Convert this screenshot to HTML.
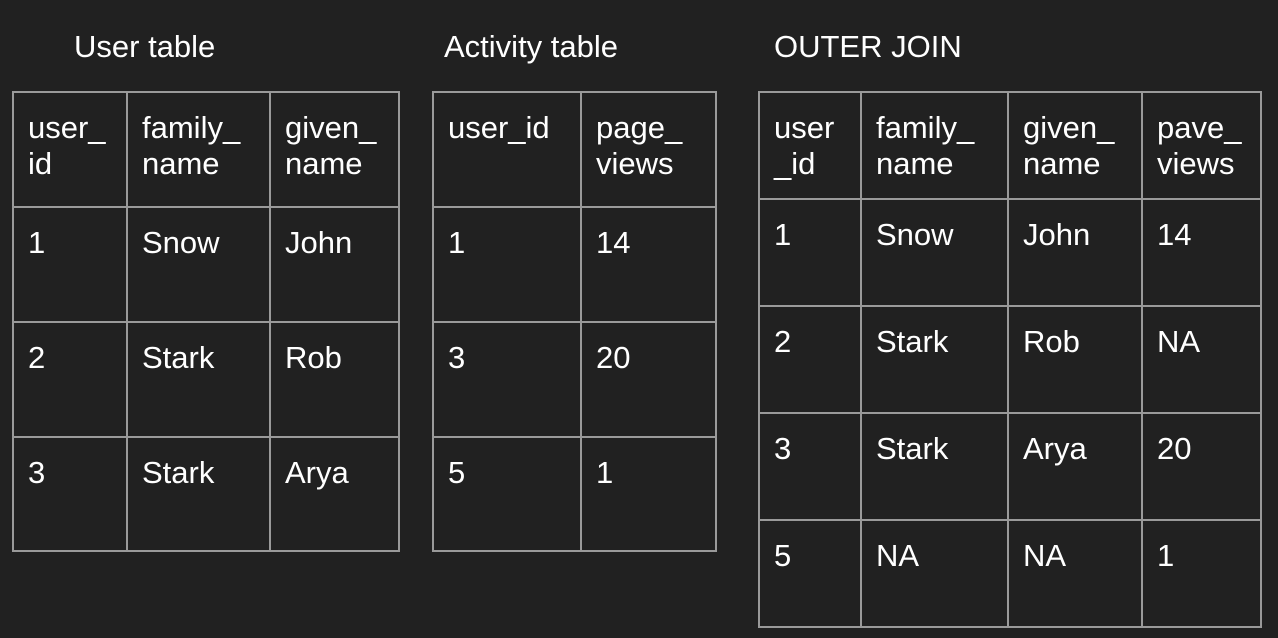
<!DOCTYPE html>
<html><head><meta charset="utf-8"><style>
html,body{margin:0;padding:0;background:#212121;}
body{width:1278px;height:638px;position:relative;overflow:hidden;font-family:"Liberation Sans",Arial,sans-serif;color:#fff;}
.h{position:absolute;background:#9a9a9a;height:2px;}
.v{position:absolute;background:#9a9a9a;width:2px;}
.t{position:absolute;font-size:31px;line-height:36px;white-space:nowrap;margin-top:2px;}
</style></head><body>
<div class="t" style="left:74px;top:27px">User table</div>
<div class="t" style="left:444px;top:27px">Activity table</div>
<div class="t" style="left:774px;top:27px">OUTER JOIN</div>

<div class="h" style="left:12px;width:388px;top:91px"></div>
<div class="h" style="left:12px;width:388px;top:206px"></div>
<div class="h" style="left:12px;width:388px;top:321px"></div>
<div class="h" style="left:12px;width:388px;top:436px"></div>
<div class="h" style="left:12px;width:388px;top:550px"></div>
<div class="v" style="left:12px;top:91px;height:461px"></div>
<div class="v" style="left:126px;top:91px;height:461px"></div>
<div class="v" style="left:269px;top:91px;height:461px"></div>
<div class="v" style="left:398px;top:91px;height:461px"></div>

<div class="t" style="left:28px;top:108px">user_<br>id</div>
<div class="t" style="left:142px;top:108px">family_<br>name</div>
<div class="t" style="left:285px;top:108px">given_<br>name</div>
<div class="t" style="left:28px;top:223px">1</div>
<div class="t" style="left:142px;top:223px">Snow</div>
<div class="t" style="left:285px;top:223px">John</div>
<div class="t" style="left:28px;top:338px">2</div>
<div class="t" style="left:142px;top:338px">Stark</div>
<div class="t" style="left:285px;top:338px">Rob</div>
<div class="t" style="left:28px;top:453px">3</div>
<div class="t" style="left:142px;top:453px">Stark</div>
<div class="t" style="left:285px;top:453px">Arya</div>

<div class="h" style="left:432px;width:285px;top:91px"></div>
<div class="h" style="left:432px;width:285px;top:206px"></div>
<div class="h" style="left:432px;width:285px;top:321px"></div>
<div class="h" style="left:432px;width:285px;top:436px"></div>
<div class="h" style="left:432px;width:285px;top:550px"></div>
<div class="v" style="left:432px;top:91px;height:461px"></div>
<div class="v" style="left:580px;top:91px;height:461px"></div>
<div class="v" style="left:715px;top:91px;height:461px"></div>

<div class="t" style="left:448px;top:108px">user_id</div>
<div class="t" style="left:596px;top:108px">page_<br>views</div>
<div class="t" style="left:448px;top:223px">1</div>
<div class="t" style="left:596px;top:223px">14</div>
<div class="t" style="left:448px;top:338px">3</div>
<div class="t" style="left:596px;top:338px">20</div>
<div class="t" style="left:448px;top:453px">5</div>
<div class="t" style="left:596px;top:453px">1</div>

<div class="h" style="left:758px;width:504px;top:91px"></div>
<div class="h" style="left:758px;width:504px;top:198px"></div>
<div class="h" style="left:758px;width:504px;top:305px"></div>
<div class="h" style="left:758px;width:504px;top:412px"></div>
<div class="h" style="left:758px;width:504px;top:519px"></div>
<div class="h" style="left:758px;width:504px;top:626px"></div>
<div class="v" style="left:758px;top:91px;height:537px"></div>
<div class="v" style="left:860px;top:91px;height:537px"></div>
<div class="v" style="left:1007px;top:91px;height:537px"></div>
<div class="v" style="left:1141px;top:91px;height:537px"></div>
<div class="v" style="left:1260px;top:91px;height:537px"></div>

<div class="t" style="left:774px;top:108px">user<br>_id</div>
<div class="t" style="left:876px;top:108px">family_<br>name</div>
<div class="t" style="left:1023px;top:108px">given_<br>name</div>
<div class="t" style="left:1157px;top:108px">pave_<br>views</div>
<div class="t" style="left:774px;top:215px">1</div>
<div class="t" style="left:876px;top:215px">Snow</div>
<div class="t" style="left:1023px;top:215px">John</div>
<div class="t" style="left:1157px;top:215px">14</div>
<div class="t" style="left:774px;top:322px">2</div>
<div class="t" style="left:876px;top:322px">Stark</div>
<div class="t" style="left:1023px;top:322px">Rob</div>
<div class="t" style="left:1157px;top:322px">NA</div>
<div class="t" style="left:774px;top:429px">3</div>
<div class="t" style="left:876px;top:429px">Stark</div>
<div class="t" style="left:1023px;top:429px">Arya</div>
<div class="t" style="left:1157px;top:429px">20</div>
<div class="t" style="left:774px;top:536px">5</div>
<div class="t" style="left:876px;top:536px">NA</div>
<div class="t" style="left:1023px;top:536px">NA</div>
<div class="t" style="left:1157px;top:536px">1</div>
</body></html>
